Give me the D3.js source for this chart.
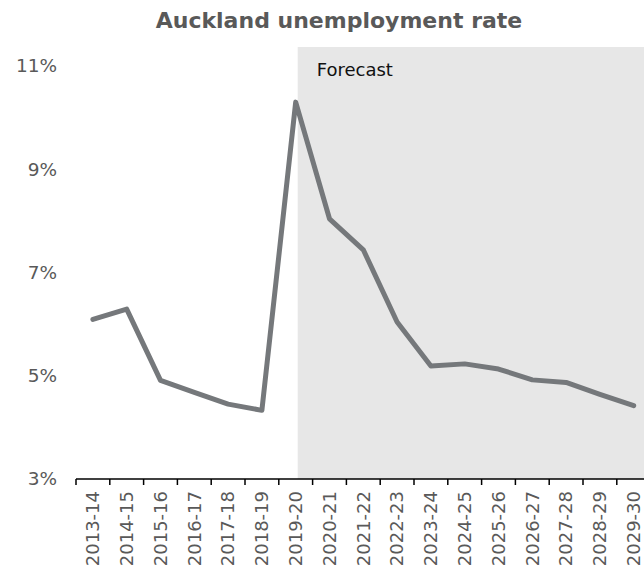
<!DOCTYPE html>
<html>
<head>
<meta charset="utf-8">
<script src="https://cdn.jsdelivr.net/npm/d3@7"></script>
<style>
  html, body { margin: 0; padding: 0; background: #ffffff; }
  svg { display: block; }
</style>
</head>
<body>
<svg id="chart" width="644" height="571"></svg>
<script>
// Financial years and Auckland unemployment rate (%)
const years = ["2013-14","2014-15","2015-16","2016-17","2017-18","2018-19","2019-20",
               "2020-21","2021-22","2022-23","2023-24","2024-25","2025-26","2026-27",
               "2027-28","2028-29","2029-30"];
const rates = [6.09, 6.29, 4.91, 4.68, 4.45, 4.33, 10.30,
               8.04, 7.44, 6.04, 5.19, 5.23, 5.13, 4.92,
               4.87, 4.64, 4.42];
const yTicks = [3, 5, 7, 9, 11];
const forecastStart = "2019-20";

const font = "'DejaVu Sans', Verdana, sans-serif";
const svg = d3.select("#chart");
const W = 644, H = 571;
const m = { top: 47, left: 76, bottom: 92 };
const plotRight = m.left + 17 * 33.8;

const x = d3.scaleBand().domain(years).range([m.left, plotRight]);
const y = d3.scaleLinear().domain([3, 11]).range([H - m.bottom, 66]);
const cx = d => x(d) + x.bandwidth() / 2;

// shaded forecast period
svg.append("rect")
  .attr("x", cx(forecastStart) + 2)
  .attr("y", m.top)
  .attr("width", W - cx(forecastStart))
  .attr("height", y(3) - m.top)
  .attr("fill", "#e7e7e7");

svg.append("text")
  .attr("x", cx(forecastStart) + 21)
  .attr("y", 76)
  .attr("font-family", font)
  .attr("font-size", 18)
  .attr("fill", "#111")
  .text("Forecast");

// title
svg.append("text")
  .attr("x", 339)
  .attr("y", 28)
  .attr("text-anchor", "middle")
  .attr("font-family", font)
  .attr("font-weight", "bold")
  .attr("font-size", 22)
  .attr("fill", "#595959")
  .text("Auckland unemployment rate");

// y labels (no axis line)
svg.append("g").selectAll("text").data(yTicks).join("text")
  .attr("x", 57)
  .attr("y", d => y(d))
  .attr("dy", "0.35em")
  .attr("text-anchor", "end")
  .attr("font-family", font)
  .attr("font-size", 18.5)
  .attr("fill", "#595959")
  .text(d => d + "%");

// x axis with ticks on category boundaries
const xAxis = svg.append("g").attr("transform", `translate(0,${y(3)})`);
xAxis.append("line")
  .attr("x1", m.left).attr("x2", plotRight)
  .attr("stroke", "#000").attr("stroke-width", 1.5);
xAxis.selectAll("line.tick").data(years).join("line")
  .attr("class", "tick")
  .attr("x1", d => x(d)).attr("x2", d => x(d))
  .attr("y1", 0).attr("y2", 6)
  .attr("stroke", "#000").attr("stroke-width", 1.5);
xAxis.selectAll("text").data(years).join("text")
  .attr("transform", d => `translate(${cx(d)},12) rotate(-90)`)
  .attr("text-anchor", "end")
  .attr("dy", "0.35em")
  .attr("font-family", font)
  .attr("font-size", 18)
  .attr("fill", "#595959")
  .text(d => d);

// unemployment line
const line = d3.line().x((d, i) => cx(years[i])).y(d => y(d));
svg.append("path")
  .datum(rates)
  .attr("d", line)
  .attr("fill", "none")
  .attr("stroke", "#75787b")
  .attr("stroke-width", 5)
  .attr("stroke-linejoin", "round")
  .attr("stroke-linecap", "round");
</script>
</body>
</html>
